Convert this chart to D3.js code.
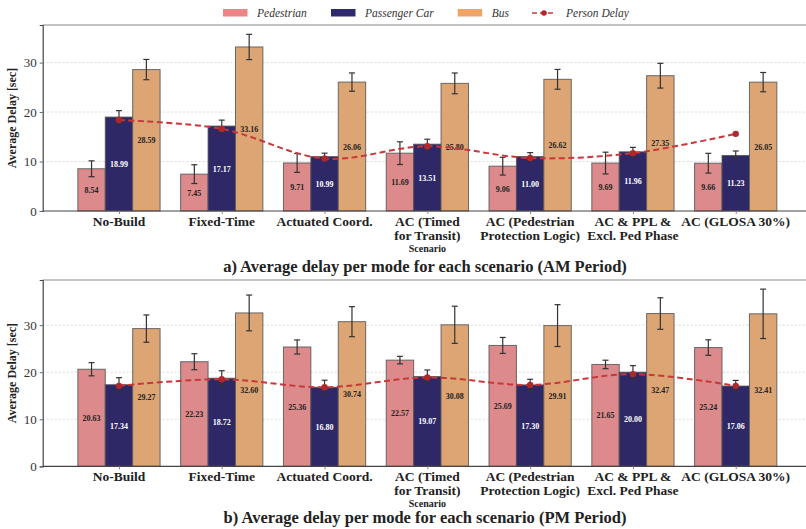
<!DOCTYPE html>
<html>
<head>
<meta charset="utf-8">
<script src="https://cdn.jsdelivr.net/npm/d3@7"></script>
<style>
  body { margin: 0; background: #fff; }
  text { font-family: "Liberation Serif", "DejaVu Serif", serif; }
</style>
</head>
<body>
<script>
var w = 806, h = 529;

// data
var scenarios = ["No-Build", "Fixed-Time", "Actuated Coord.", "AC (Timed\nfor Transit)",
                 "AC (Pedestrian\nProtection Logic)", "AC & PPL &\nExcl. Ped Phase", "AC (GLOSA 30%)"];
var modes = ["Pedestrian", "Passenger Car", "Bus"];
var yTicks = [0, 10, 20, 30];

var amPed = [8.54, 7.45, 9.71, 11.69, 9.06, 9.69, 9.66];
var amCar = [18.99, 17.17, 10.99, 13.51, 11.00, 11.96, 11.23];
var amBus = [28.59, 33.16, 26.06, 25.80, 26.62, 27.35, 26.05];
var amPedErr = [1.6, 1.9, 1.9, 2.3, 1.8, 2.2, 2.0];
var amCarErr = [1.3, 1.2, 0.7, 1.0, 0.8, 0.9, 0.9];
var amBusErr = [2.05, 2.55, 1.85, 2.1, 2.0, 2.5, 1.95];
var amPerson = [18.4, 16.6, 10.6, 13.1, 10.7, 11.7, 15.6];

var pmPed = [20.63, 22.23, 25.36, 22.57, 25.69, 21.65, 25.24];
var pmCar = [17.34, 18.72, 16.80, 19.07, 17.30, 20.00, 17.06];
var pmBus = [29.27, 32.60, 30.74, 30.08, 29.91, 32.47, 32.41];
var pmPedErr = [1.4, 1.7, 1.5, 0.8, 1.7, 0.9, 1.65];
var pmCarErr = [1.5, 1.6, 1.5, 1.4, 1.2, 1.4, 1.2];
var pmBusErr = [2.9, 3.8, 3.2, 3.95, 4.45, 3.35, 5.25];
var pmPerson = [17.1, 18.5, 16.8, 18.9, 17.3, 19.6, 17.1];

var barColors = ["#dc8a8b", "#2f2866", "#dea574"];
var legendColors = ["#ec8686", "#2f2a70", "#efa465"];
var labelColors = ["#222", "#fff", "#222"];
var lineColor = "#c8383b";
var markerColor = "#b0282c";

var svg = d3.select("body").append("svg")
    .attr("width", w)
    .attr("height", h);

var left = 42.7, right = 812;

var xScale = d3.scalePoint()
    .domain(scenarios)
    .range([left, right])
    .padding(0.742);
var step = xScale.step();
var barW = step * 0.8 / 3;

function drawPanel(cfg) {
    var g = svg.append("g");
    var yScale = d3.scaleLinear()
        .domain([0, cfg.yMax])
        .range([cfg.bottom, cfg.top]);

    // grid
    g.selectAll("line.grid")
        .data(yTicks.slice(1))
        .enter()
        .append("line")
        .attr("x1", left).attr("x2", right)
        .attr("y1", function(d){ return yScale(d); })
        .attr("y2", function(d){ return yScale(d); })
        .attr("stroke", "#d0d0d0")
        .attr("stroke-width", 0.8)
        .attr("stroke-dasharray", "2,2");

    // top spine
    g.append("line")
        .attr("x1", left).attr("x2", right)
        .attr("y1", cfg.top).attr("y2", cfg.top)
        .attr("stroke", "#888").attr("stroke-width", 1.2);

    var series = [cfg.ped, cfg.car, cfg.bus];
    var errs = [cfg.pedErr, cfg.carErr, cfg.busErr];

    series.forEach(function(vals, m) {
        var offset = (m - 1) * barW;
        var bars = g.append("g");
        bars.selectAll("rect")
            .data(vals)
            .enter()
            .append("rect")
            .attr("x", function(d, i){ return xScale(scenarios[i]) + offset - barW / 2; })
            .attr("y", function(d){ return yScale(d); })
            .attr("width", barW)
            .attr("height", function(d){ return yScale(0) - yScale(d); })
            .attr("fill", barColors[m])
            .attr("stroke", "#555")
            .attr("stroke-opacity", 0.85)
            .attr("stroke-width", 1);

        // error bars
        var eb = g.append("g").attr("stroke", "#333").attr("stroke-width", 1.2);
        vals.forEach(function(d, i) {
            var cx = xScale(scenarios[i]) + offset;
            var e = errs[m][i];
            eb.append("line")
                .attr("x1", cx).attr("x2", cx)
                .attr("y1", yScale(d - e)).attr("y2", yScale(d + e));
            [d - e, d + e].forEach(function(v) {
                eb.append("line")
                    .attr("x1", cx - 3).attr("x2", cx + 3)
                    .attr("y1", yScale(v)).attr("y2", yScale(v));
            });
        });

        // value labels
        g.append("g").selectAll("text")
            .data(vals)
            .enter()
            .append("text")
            .attr("x", function(d, i){ return xScale(scenarios[i]) + offset; })
            .attr("y", function(d){ return yScale(d / 2) + 3; })
            .attr("text-anchor", "middle")
            .attr("font-size", "8px")
            .attr("font-weight", "bold")
            .attr("fill", labelColors[m])
            .text(function(d){ return d.toFixed(2); });
    });

    // person delay line
    var line = d3.line()
        .x(function(d, i){ return xScale(scenarios[i]); })
        .y(function(d){ return yScale(d); })
        .curve(d3.curveCatmullRom.alpha(0.5));
    g.append("path")
        .datum(cfg.person)
        .attr("d", line)
        .attr("fill", "none")
        .attr("stroke", lineColor)
        .attr("stroke-width", 2)
        .attr("stroke-dasharray", "6,3.5");
    g.selectAll("circle.pd")
        .data(cfg.person)
        .enter()
        .append("circle")
        .attr("cx", function(d, i){ return xScale(scenarios[i]); })
        .attr("cy", function(d){ return yScale(d); })
        .attr("r", 3.2)
        .attr("fill", markerColor);

    // axes
    var yAxis = d3.axisLeft(yScale).tickValues(yTicks).tickSize(3).tickPadding(3);
    var ya = g.append("g")
        .attr("transform", "translate(" + left + ",0)")
        .call(yAxis);
    ya.select(".domain").attr("stroke", "#444").attr("stroke-width", 1.2);
    ya.selectAll(".tick line").attr("stroke", "#666");
    ya.selectAll(".tick text")
        .attr("font-size", "13px")
        .attr("fill", "#333");

    var xAxis = d3.axisBottom(xScale).tickSize(3).tickFormat("");
    var xa = g.append("g")
        .attr("transform", "translate(0," + cfg.bottom + ")")
        .call(xAxis);
    xa.select(".domain").attr("stroke", "#444").attr("stroke-width", 1.2)
        .attr("d", "M" + left + ",0H" + right);
    xa.selectAll(".tick line").attr("stroke", "#888");

    // category labels (multi-line)
    var lab = g.append("g").selectAll("text")
        .data(scenarios)
        .enter()
        .append("text")
        .attr("text-anchor", "middle")
        .attr("font-size", "13.5px")
        .attr("font-weight", "bold")
        .attr("fill", "#222");
    lab.each(function(d) {
        var t = d3.select(this);
        d.split("\n").forEach(function(part, k) {
            t.append("tspan")
                .attr("x", xScale(d))
                .attr("y", cfg.bottom + 15 + k * 13.5)
                .text(part);
        });
    });

    g.append("text")
        .attr("x", xScale(scenarios[3]))
        .attr("y", cfg.bottom + 40.5)
        .attr("text-anchor", "middle")
        .attr("font-size", "10px")
        .attr("font-weight", "bold")
        .attr("fill", "#222")
        .text("Scenario");

    g.append("text")
        .attr("transform", "translate(16," + ((cfg.top + cfg.bottom) / 2) + ") rotate(-90)")
        .attr("text-anchor", "middle")
        .attr("font-size", "12px")
        .attr("font-weight", "bold")
        .attr("fill", "#222")
        .text("Average Delay [sec]");

    g.append("text")
        .attr("x", 425)
        .attr("y", cfg.titleY)
        .attr("text-anchor", "middle")
        .attr("font-size", "16.5px")
        .attr("font-weight", "bold")
        .attr("fill", "#222")
        .text(cfg.title);
}

drawPanel({
    top: 25, bottom: 211, yMax: 37.6, titleY: 271.5,
    ped: amPed, car: amCar, bus: amBus,
    pedErr: amPedErr, carErr: amCarErr, busErr: amBusErr,
    person: amPerson,
    title: "a) Average delay per mode for each scenario (AM Period)"
});
drawPanel({
    top: 280, bottom: 466.3, yMax: 39.6, titleY: 522.5,
    ped: pmPed, car: pmCar, bus: pmBus,
    pedErr: pmPedErr, carErr: pmCarErr, busErr: pmBusErr,
    person: pmPerson,
    title: "b) Average delay per mode for each scenario (PM Period)"
});

// legend
var legendX = [223, 331, 457.7];
var leg = svg.append("g");
modes.forEach(function(name, m) {
    leg.append("rect")
        .attr("x", legendX[m]).attr("y", 9)
        .attr("width", 24.5).attr("height", 7.5)
        .attr("fill", legendColors[m]);
    leg.append("text")
        .attr("x", legendX[m] + 34).attr("y", 17)
        .attr("font-size", "11.5px")
        .attr("font-style", "italic")
        .attr("fill", "#333")
        .text(name);
});
leg.append("line")
    .attr("x1", 532).attr("x2", 556)
    .attr("y1", 13).attr("y2", 13)
    .attr("stroke", lineColor)
    .attr("stroke-width", 1.6)
    .attr("stroke-dasharray", "5,3");
leg.append("circle")
    .attr("cx", 544).attr("cy", 13).attr("r", 2.8)
    .attr("fill", markerColor);
leg.append("text")
    .attr("x", 566).attr("y", 17)
    .attr("font-size", "11.5px")
    .attr("font-style", "italic")
    .attr("fill", "#333")
    .text("Person Delay");
</script>
</body>
</html>
